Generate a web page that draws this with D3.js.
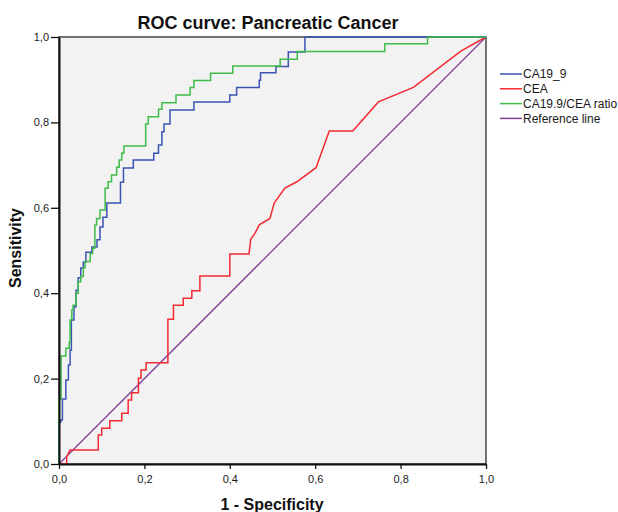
<!DOCTYPE html>
<html>
<head>
<meta charset="utf-8">
<script src="https://cdn.jsdelivr.net/npm/d3@7"></script>
<style>
  html, body { margin: 0; padding: 0; background: #fff; }
  svg { display: block; font-family: "Liberation Sans", Arial, sans-serif; }
</style>
</head>
<body>
<svg id="chart" width="618" height="512"></svg>
<script>
// ROC curves for three markers (false positive rate vs. sensitivity)
const seriesNames = ["CA19_9", "CEA", "CA19.9/CEA ratio", "Reference line"];
const seriesColors = ["#3b53b2", "#f42a32", "#3fbd4a", "#7f3f9d"];

const ca199Fpr = [0, 0, 0.004, 0.004, 0.008, 0.008, 0.016, 0.016, 0.022, 0.022, 0.026, 0.026, 0.029, 0.029, 0.035, 0.035, 0.040, 0.040, 0.045, 0.045, 0.051, 0.051, 0.057, 0.057, 0.063, 0.063, 0.077, 0.077, 0.089, 0.089, 0.096, 0.096, 0.103, 0.103, 0.112, 0.112, 0.144, 0.144, 0.151, 0.151, 0.174, 0.174, 0.222, 0.222, 0.233, 0.233, 0.241, 0.241, 0.246, 0.246, 0.260, 0.260, 0.316, 0.316, 0.400, 0.400, 0.416, 0.416, 0.469, 0.469, 0.472, 0.472, 0.508, 0.508, 0.537, 0.537, 0.576, 0.576, 1];
const ca199Tpr = [0, 0.098, 0.098, 0.103, 0.103, 0.152, 0.152, 0.197, 0.197, 0.232, 0.232, 0.267, 0.267, 0.337, 0.337, 0.368, 0.368, 0.407, 0.407, 0.436, 0.436, 0.459, 0.459, 0.473, 0.473, 0.496, 0.496, 0.508, 0.508, 0.525, 0.525, 0.555, 0.555, 0.578, 0.578, 0.611, 0.611, 0.660, 0.660, 0.693, 0.693, 0.712, 0.712, 0.728, 0.728, 0.747, 0.747, 0.778, 0.778, 0.796, 0.796, 0.829, 0.829, 0.848, 0.848, 0.864, 0.864, 0.882, 0.882, 0.899, 0.899, 0.916, 0.916, 0.931, 0.931, 0.965, 0.965, 1, 1];

const ceaFpr = [0, 0.018, 0.018, 0.026, 0.092, 0.092, 0.100, 0.100, 0.119, 0.119, 0.147, 0.147, 0.162, 0.162, 0.170, 0.170, 0.186, 0.186, 0.192, 0.192, 0.204, 0.204, 0.255, 0.255, 0.268, 0.268, 0.291, 0.291, 0.311, 0.311, 0.330, 0.330, 0.400, 0.400, 0.445, 0.449, 0.459, 0.469, 0.494, 0.504, 0.529, 0.557, 0.602, 0.633, 0.688, 0.748, 0.830, 0.941, 1];
const ceaTpr = [0, 0, 0.017, 0.033, 0.033, 0.068, 0.068, 0.084, 0.084, 0.101, 0.101, 0.119, 0.119, 0.150, 0.150, 0.167, 0.167, 0.201, 0.201, 0.220, 0.220, 0.237, 0.237, 0.339, 0.339, 0.372, 0.372, 0.388, 0.388, 0.406, 0.406, 0.440, 0.440, 0.492, 0.492, 0.526, 0.540, 0.560, 0.575, 0.611, 0.646, 0.661, 0.694, 0.780, 0.780, 0.848, 0.882, 0.967, 1];

const ratioFpr = [0, 0, 0.005, 0.005, 0.016, 0.016, 0.024, 0.024, 0.026, 0.026, 0.030, 0.030, 0.033, 0.033, 0.040, 0.040, 0.045, 0.045, 0.051, 0.051, 0.057, 0.057, 0.061, 0.061, 0.073, 0.073, 0.079, 0.079, 0.084, 0.084, 0.088, 0.088, 0.096, 0.096, 0.108, 0.108, 0.115, 0.115, 0.123, 0.123, 0.135, 0.135, 0.141, 0.141, 0.147, 0.147, 0.152, 0.152, 0.203, 0.203, 0.209, 0.209, 0.233, 0.233, 0.241, 0.241, 0.274, 0.274, 0.307, 0.307, 0.316, 0.316, 0.355, 0.355, 0.407, 0.407, 0.518, 0.518, 0.558, 0.558, 0.763, 0.763, 0.863, 0.863, 1];
const ratioTpr = [0, 0.152, 0.152, 0.253, 0.253, 0.271, 0.271, 0.286, 0.286, 0.337, 0.337, 0.361, 0.361, 0.372, 0.372, 0.400, 0.400, 0.427, 0.427, 0.439, 0.439, 0.459, 0.459, 0.474, 0.474, 0.493, 0.493, 0.505, 0.505, 0.560, 0.560, 0.575, 0.575, 0.595, 0.595, 0.646, 0.646, 0.661, 0.661, 0.677, 0.677, 0.695, 0.695, 0.712, 0.712, 0.728, 0.728, 0.745, 0.745, 0.796, 0.796, 0.813, 0.813, 0.831, 0.831, 0.846, 0.846, 0.864, 0.864, 0.882, 0.882, 0.898, 0.898, 0.915, 0.915, 0.932, 0.932, 0.948, 0.948, 0.966, 0.966, 0.984, 0.984, 1, 1];

const refFpr = [0, 1];
const refTpr = [0, 1];

const tickValues = [0, 0.2, 0.4, 0.6, 0.8, 1.0];
const tickLabels = ["0,0", "0,2", "0,4", "0,6", "0,8", "1,0"];

const svg = d3.select("#chart");
const plot = { left: 59, top: 37, width: 427, height: 427 };

const x = d3.scaleLinear().domain([0, 1]).range([plot.left, plot.left + plot.width]);
const y = d3.scaleLinear().domain([0, 1]).range([plot.top + plot.height, plot.top]);

// plot background and frame
svg.append("rect")
  .attr("x", plot.left).attr("y", plot.top)
  .attr("width", plot.width).attr("height", plot.height)
  .attr("fill", "#f2f2f2")
  .attr("stroke", "#3a3a3a").attr("stroke-width", 1.4);

const series = [
  { fpr: ca199Fpr, tpr: ca199Tpr, color: seriesColors[0], w: 1.5 },
  { fpr: ceaFpr, tpr: ceaTpr, color: seriesColors[1], w: 1.5 },
  { fpr: ratioFpr, tpr: ratioTpr, color: seriesColors[2], w: 1.5 },
  { fpr: refFpr, tpr: refTpr, color: seriesColors[3], w: 1.3 }
];

const line = d3.line().x(d => x(d[0])).y(d => y(d[1]));

// draw reference line first, then the markers
[3, 1, 0, 2].forEach(i => {
  const s = series[i];
  const pts = s.fpr.map((f, k) => [f, s.tpr[k]]);
  svg.append("path")
    .datum(pts)
    .attr("d", line)
    .attr("fill", "none")
    .attr("stroke", s.color)
    .attr("stroke-width", s.w)
    .attr("stroke-linejoin", "miter");
});

// axes
const xAxis = d3.axisBottom(x).tickValues(tickValues)
  .tickFormat((d, i) => tickLabels[i]).tickSize(5).tickPadding(6).tickSizeOuter(0);
const yAxis = d3.axisLeft(y).tickValues(tickValues)
  .tickFormat((d, i) => tickLabels[i]).tickSize(8).tickPadding(2).tickSizeOuter(0);

const gx = svg.append("g").attr("transform", `translate(0,${plot.top + plot.height})`).call(xAxis);
const gy = svg.append("g").attr("transform", `translate(${plot.left},0)`).call(yAxis);

[gx, gy].forEach(g => {
  g.selectAll(".domain").attr("stroke", "#111").attr("stroke-width", 2);
  g.selectAll(".tick line").attr("stroke", "#111").attr("stroke-width", 1.3);
  g.selectAll(".tick text")
    .attr("fill", "#1a1a1a")
    .style("font-size", "11px")
    .style("font-family", "'Liberation Sans', Arial, sans-serif");
});

// titles
svg.append("text")
  .attr("x", 268).attr("y", 29)
  .attr("text-anchor", "middle")
  .style("font-size", "18px").style("font-weight", "bold")
  .attr("fill", "#111")
  .text("ROC curve: Pancreatic Cancer");

svg.append("text")
  .attr("x", 272).attr("y", 510)
  .attr("text-anchor", "middle")
  .style("font-size", "16px").style("font-weight", "bold")
  .attr("fill", "#111")
  .text("1 - Specificity");

svg.append("text")
  .attr("transform", "translate(21,248) rotate(-90)")
  .attr("text-anchor", "middle")
  .style("font-size", "16px").style("font-weight", "bold")
  .attr("fill", "#111")
  .text("Sensitivity");

// legend
const legend = svg.append("g").attr("transform", "translate(500,74)");
seriesNames.forEach((name, i) => {
  const row = legend.append("g").attr("transform", `translate(0,${i * 14.8})`);
  row.append("line")
    .attr("x1", 0).attr("x2", 22).attr("y1", 0).attr("y2", 0)
    .attr("stroke", seriesColors[i]).attr("stroke-width", 1.5);
  row.append("text")
    .attr("x", 23).attr("y", 0).attr("dy", "0.35em")
    .style("font-size", "12px")
    .attr("fill", "#1a1a1a")
    .text(name);
});
</script>
</body>
</html>
